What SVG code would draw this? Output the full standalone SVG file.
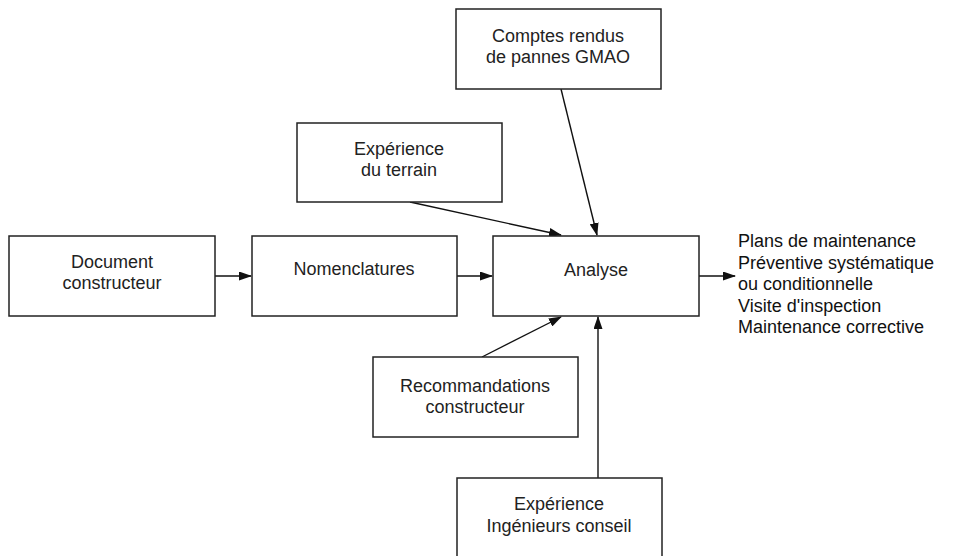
<svg xmlns="http://www.w3.org/2000/svg" width="956" height="556" viewBox="0 0 956 556">
<style>
.box{fill:#fff;stroke:#222;stroke-width:1.5}
.t{font-family:"Liberation Sans",Arial,sans-serif;font-size:18px;fill:#222;text-anchor:middle}
.o{font-family:"Liberation Sans",Arial,sans-serif;font-size:18px;fill:#111}
.c{stroke:#111;stroke-width:1.4;fill:none;marker-end:url(#ah)}
</style>
<defs>
<marker id="ah" markerWidth="13" markerHeight="9" refX="12" refY="4.5" orient="auto" markerUnits="userSpaceOnUse">
<path d="M0,0 L13,4.5 L0,9 Z" fill="#111"/>
</marker>
</defs>
<rect width="956" height="556" fill="#fff"/>
<g id="connectors">
<line class="c" x1="215" y1="276" x2="251" y2="276"/>
<line class="c" x1="457" y1="276" x2="492" y2="276"/>
<line class="c" x1="699" y1="276" x2="735" y2="276"/>
<line class="c" x1="561" y1="89" x2="597" y2="235"/>
<line class="c" x1="410" y1="202" x2="561" y2="235"/>
<line class="c" x1="482" y1="357" x2="561" y2="317"/>
<line class="c" x1="598" y1="478" x2="598" y2="317"/>
</g>
<g id="comptes"><rect class="box" x="456" y="9" width="205" height="80"/>
<text class="t" x="558" y="42">Comptes rendus</text><text class="t" x="558" y="63">de pannes GMAO</text></g>
<g id="terrain"><rect class="box" x="297" y="123" width="205" height="79"/>
<text class="t" x="399" y="155">Expérience</text><text class="t" x="399" y="176">du terrain</text></g>
<g id="document"><rect class="box" x="9" y="236" width="206" height="80"/>
<text class="t" x="112" y="268">Document</text><text class="t" x="112" y="289">constructeur</text></g>
<g id="nomenclatures"><rect class="box" x="252" y="236" width="205" height="80"/>
<text class="t" x="354" y="275">Nomenclatures</text></g>
<g id="analyse"><rect class="box" x="493" y="236" width="206" height="80"/>
<text class="t" x="596" y="276">Analyse</text></g>
<g id="recommandations"><rect class="box" x="373" y="357" width="205" height="80"/>
<text class="t" x="475" y="392">Recommandations</text><text class="t" x="475" y="413">constructeur</text></g>
<g id="ingenieurs"><rect class="box" x="457" y="478" width="205" height="90"/>
<text class="t" x="559" y="510">Expérience</text><text class="t" x="559" y="532">Ingénieurs conseil</text></g>
<g id="sortie">
<text class="o" x="738" y="247">Plans de maintenance</text>
<text class="o" x="738" y="269">Préventive systématique</text>
<text class="o" x="738" y="290">ou conditionnelle</text>
<text class="o" x="738" y="312">Visite d'inspection</text>
<text class="o" x="738" y="333">Maintenance corrective</text>
</g>
</svg>
